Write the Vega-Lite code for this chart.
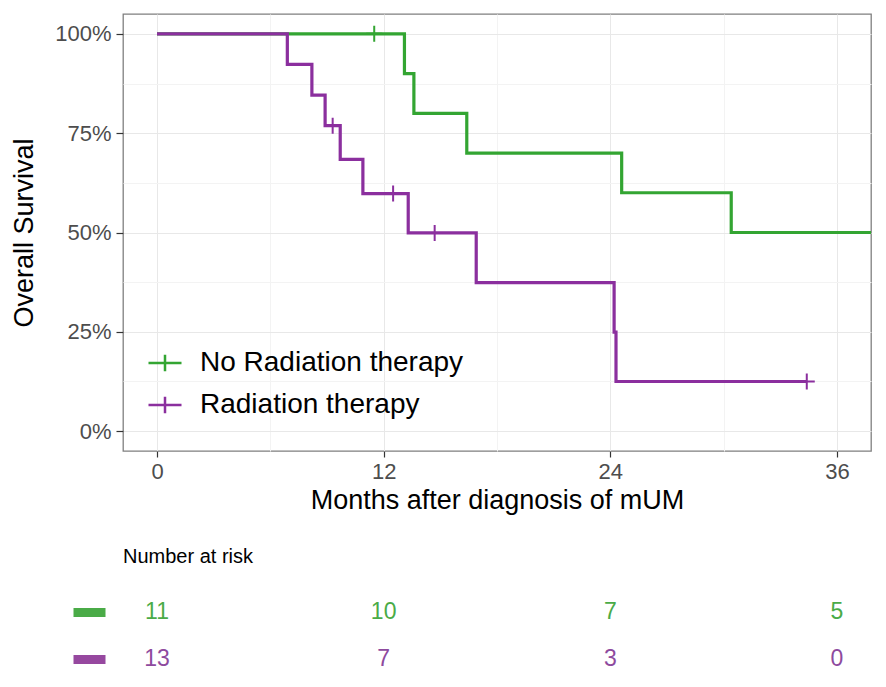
{
  "$schema": "https://vega.github.io/schema/vega-lite/v6.json",
  "padding": {"left": 10, "top": 13, "right": 16, "bottom": 2},
  "datasets": {
    "curve": [
      {"group": "No Radiation therapy", "time": 0, "surv": 1},
      {"group": "No Radiation therapy", "time": 13.1, "surv": 0.9},
      {"group": "No Radiation therapy", "time": 13.6, "surv": 0.8},
      {"group": "No Radiation therapy", "time": 16.4, "surv": 0.7},
      {"group": "No Radiation therapy", "time": 24.6, "surv": 0.6},
      {"group": "No Radiation therapy", "time": 30.4, "surv": 0.5},
      {"group": "No Radiation therapy", "time": 38.5, "surv": 0.5},
      {"group": "Radiation therapy", "time": 0, "surv": 1},
      {"group": "Radiation therapy", "time": 6.9, "surv": 0.923},
      {"group": "Radiation therapy", "time": 8.2, "surv": 0.846},
      {"group": "Radiation therapy", "time": 8.9, "surv": 0.769},
      {"group": "Radiation therapy", "time": 9.7, "surv": 0.684},
      {"group": "Radiation therapy", "time": 10.9, "surv": 0.598},
      {"group": "Radiation therapy", "time": 13.3, "surv": 0.499},
      {"group": "Radiation therapy", "time": 16.9, "surv": 0.374},
      {"group": "Radiation therapy", "time": 24.2, "surv": 0.249},
      {"group": "Radiation therapy", "time": 24.3, "surv": 0.125},
      {"group": "Radiation therapy", "time": 34.4, "surv": 0.125}
    ],
    "censor": [
      {"group": "No Radiation therapy", "time": 11.5, "surv": 1},
      {"group": "Radiation therapy", "time": 9.3, "surv": 0.769},
      {"group": "Radiation therapy", "time": 12.5, "surv": 0.598},
      {"group": "Radiation therapy", "time": 14.7, "surv": 0.499},
      {"group": "Radiation therapy", "time": 34.4, "surv": 0.125}
    ],
    "risk": [
      {"group": "No Radiation therapy", "time": 0, "n": 11},
      {"group": "No Radiation therapy", "time": 12, "n": 10},
      {"group": "No Radiation therapy", "time": 24, "n": 7},
      {"group": "No Radiation therapy", "time": 36, "n": 5},
      {"group": "Radiation therapy", "time": 0, "n": 13},
      {"group": "Radiation therapy", "time": 12, "n": 7},
      {"group": "Radiation therapy", "time": 24, "n": 3},
      {"group": "Radiation therapy", "time": 36, "n": 0}
    ]
  },
  "spacing": 33,
  "vconcat": [
    {
      "width": 748,
      "height": 437,
      "view": {"stroke": "#7f7f7f", "strokeWidth": 1.3},
      "layer": [
        {
          "data": {"name": "curve"},
          "mark": {"type": "line", "interpolate": "step-after", "strokeWidth": 3.2, "clip": true},
          "encoding": {
            "x": {
              "field": "time", "type": "quantitative",
              "scale": {"domain": [-1.8, 37.8], "nice": false, "zero": false},
              "axis": {
                "values": [0, 6, 12, 18, 24, 30, 36],
                "labelExpr": "datum.value % 12 == 0 ? datum.label : ''",
                "title": "Months after diagnosis of mUM",
                "domain": false,
                "tickSize": 6,
                "tickWidth": 1.2,
                "tickColor": {"condition": {"test": "datum.value % 12 != 0", "value": "transparent"}, "value": "#333333"},
                "gridColor": {"condition": {"test": "datum.value % 12 != 0", "value": "#f3f3f3"}, "value": "#e8e8e8"},
                "labelFontSize": 22,
                "labelColor": "#4d4d4d",
                "labelPadding": 4,
                "titleFontSize": 27,
                "titlePadding": 5
              }
            },
            "y": {
              "field": "surv", "type": "quantitative",
              "scale": {"domain": [-0.05, 1.05], "nice": false, "zero": false},
              "axis": {
                "values": [0, 0.125, 0.25, 0.375, 0.5, 0.625, 0.75, 0.875, 1],
                "format": ".0%",
                "labelExpr": "(datum.value * 100) % 25 == 0 ? datum.label : ''",
                "title": "Overall Survival",
                "domain": false,
                "tickSize": 7,
                "tickWidth": 1.2,
                "tickColor": {"condition": {"test": "(datum.value * 100) % 25 != 0", "value": "transparent"}, "value": "#333333"},
                "gridColor": {"condition": {"test": "(datum.value * 100) % 25 != 0", "value": "#f3f3f3"}, "value": "#e8e8e8"},
                "labelFontSize": 22,
                "labelColor": "#4d4d4d",
                "labelPadding": 5,
                "titleFontSize": 27,
                "titlePadding": 16
              }
            },
            "color": {
              "field": "group", "type": "nominal",
              "scale": {"domain": ["No Radiation therapy", "Radiation therapy"], "range": ["#33a532", "#8b2f9e"]},
              "legend": {
                "orient": "none",
                "legendX": 24,
                "legendY": 331,
                "title": null,
                "padding": 0,
                "labelFontSize": 28,
                "labelLimit": 0,
                "labelColor": "#000000",
                "labelOffset": 17,
                "rowPadding": 10,
                "symbolType": "M-1,0H1M0,-0.5V0.5",
                "symbolSize": 1089,
                "symbolStrokeWidth": 2.5,
                "symbolFillColor": "transparent"
              }
            }
          }
        },
        {
          "data": {"name": "censor"},
          "mark": {"type": "point", "shape": "M-1,0H1M0,-1V1", "size": 256, "filled": false, "strokeWidth": 2, "opacity": 1},
          "encoding": {
            "x": {"field": "time", "type": "quantitative"},
            "y": {"field": "surv", "type": "quantitative"},
            "color": {"field": "group", "type": "nominal"}
          }
        }
      ]
    },
    {
      "width": 748,
      "height": 94,
      "view": {"stroke": null},
      "title": {"text": "Number at risk", "anchor": "start", "frame": "group", "fontSize": 20, "fontWeight": "normal", "color": "#000000", "offset": 21},
      "data": {"name": "risk"},
      "mark": {"type": "text", "fontSize": 23},
      "encoding": {
        "x": {
          "field": "time", "type": "quantitative",
          "scale": {"domain": [-1.8, 37.8], "nice": false, "zero": false},
          "axis": null
        },
        "y": {
          "field": "group", "type": "nominal",
          "axis": {
            "title": null,
            "labels": false,
            "domain": false,
            "grid": false,
            "offset": 18,
            "tickSize": 32,
            "tickWidth": 9,
            "tickColor": {"condition": {"test": "datum.value == 'No Radiation therapy'", "value": "#4aab47"}, "value": "#96489f"}
          }
        },
        "text": {"field": "n", "type": "quantitative"},
        "color": {
          "field": "group", "type": "nominal",
          "scale": {"domain": ["No Radiation therapy", "Radiation therapy"], "range": ["#4aab47", "#8e4a9e"]},
          "legend": null
        }
      }
    }
  ],
  "resolve": {"scale": {"color": "independent"}},
  "config": {
    "font": "Liberation Sans",
    "axis": {"titleFontWeight": "normal", "titleColor": "#000000"}
  }
}
